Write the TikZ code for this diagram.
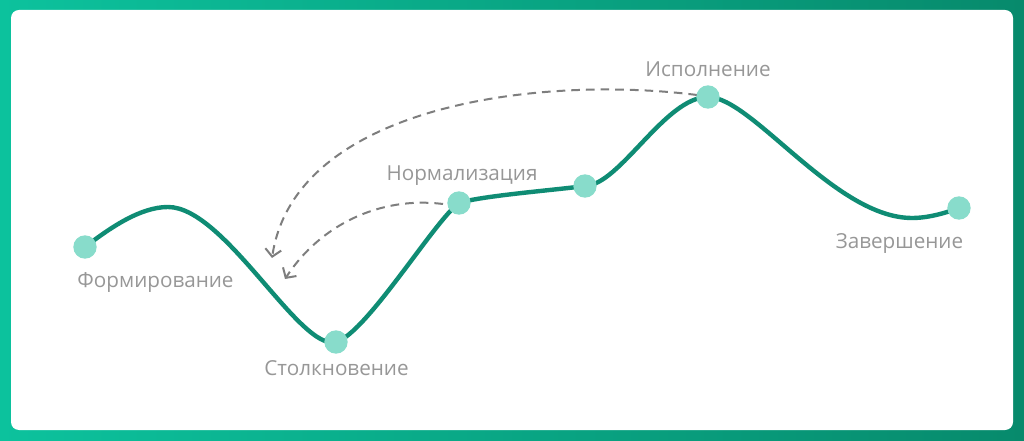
\documentclass[tikz,border=0pt]{standalone}
\usepackage{fontspec}
\setmainfont{Open Sans}
\usetikzlibrary{arrows.meta,positioning}

\definecolor{bandleft}{HTML}{0CC29D}
\definecolor{bandright}{HTML}{078A6C}
\definecolor{trendline}{HTML}{0F8C74}
\definecolor{stagedot}{HTML}{88DCCB}
\definecolor{labelgray}{HTML}{979797}
\definecolor{dashgray}{HTML}{7E7E7E}

\tikzset{
  stage/.style={circle, fill=stagedot, minimum size=17.5pt, inner sep=0pt},
  stagelabel/.style={anchor=base, text=labelgray, font=\fontsize{15.5}{18}\selectfont},
  trend/.style={trendline, line width=3.3pt},
  backlink/.style={dashgray, line width=1.5pt, dash pattern=on 6.5pt off 4.5pt,
    -{Straight Barb[length=5.5pt, width=12pt, line width=1.5pt]}}
}

\begin{document}
\begin{tikzpicture}[x=0.75pt, y=-0.75pt]  % one unit = one pixel, y downwards

            % Frame
            \shade[left color=bandleft, right color=bandright] (0, 0) rectangle (1024, 441);
            \fill[white, rounded corners=6pt] (11, 10) rectangle (1013, 430);

            % Curve
            \coordinate (hill) at (168, 207);
            \coordinate (dip) at (912, 218);
            \draw[trend] (85, 247) coordinate (f)
                .. controls (110, 228) and (140, 207) .. (hill)
                .. controls (225, 207) and (300, 352) .. (336, 342) coordinate (s)
                .. controls (366, 334) and (435, 220) .. (459, 203) coordinate (n)
                .. controls (480, 196) and (555, 190) .. (585, 186) coordinate (m)
                .. controls (620, 185) and (665, 97) .. (708, 97) coordinate (i)
                .. controls (752, 97) and (835, 218) .. (dip)
                .. controls (930, 218) and (948, 212) .. (959, 208) coordinate (z);

            % Dashed returns
            \coordinate (backtip1) at (272, 258);
            \coordinate (backtip2) at (285, 279);
            \draw[backlink] (697, 95) .. controls (540, 75) and (295, 105) .. (backtip1);
            \draw[backlink] (443, 204) .. controls (380, 196) and (320, 225) .. (backtip2);

            % Dots
            \node[stage] (formdot) at (f) {};
            \node[stage] (coldot) at (s) {};
            \node[stage] (normdot) at (n) {};
            \node[stage] (middot) at (m) {};
            \node[stage] (execdot) at (i) {};
            \node[stage] (enddot) at (z) {};

            % Text
            \node[stagelabel] (formtext) at (155.5, 288) {Формирование};
            \node[stagelabel] (coltext) at (336.5, 376) {Столкновение};
            \node[stagelabel] (normtext) at (462, 181) {Нормализация};
            \node[stagelabel] (exectext) at (708, 77) {Исполнение};
            \node[stagelabel] (endtext) at (899.5, 249) {Завершение};

        \end{tikzpicture}
\end{document}
